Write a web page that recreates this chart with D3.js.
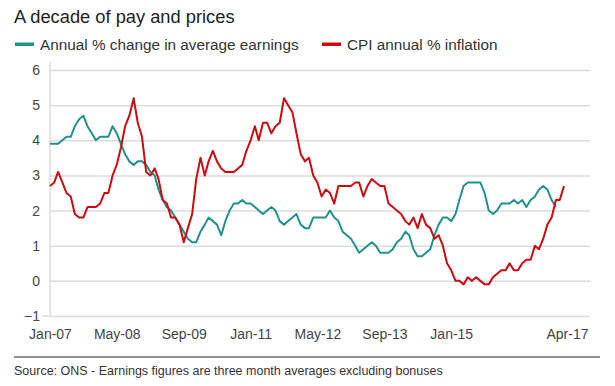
<!DOCTYPE html>
<html>
<head>
<meta charset="utf-8">
<script src="https://cdn.jsdelivr.net/npm/d3@7"></script>
<style>
  html, body { margin: 0; padding: 0; background: #fff; }
  svg { display: block; font-family: "Liberation Sans", Arial, Helvetica, sans-serif; }
</style>
</head>
<body>
<svg id="chart" width="615" height="386"></svg>
<script>
// ---- Data ----
const startMonth = "Jan-07";
const tickLabels = ["Jan-07", "May-08", "Sep-09", "Jan-11", "May-12", "Sep-13", "Jan-15", "Apr-17"];
const yTicks = [-1, 0, 1, 2, 3, 4, 5, 6];

// Annual % change in average earnings (3-month average, excl. bonuses), Jan-07 .. Feb-17
const earnings = [
  3.9, 3.9, 3.9, 4.0, 4.1, 4.1, 4.4, 4.6, 4.7, 4.4, 4.2, 4.0,
  4.1, 4.1, 4.1, 4.4, 4.2, 3.9, 3.6, 3.4, 3.3, 3.4, 3.4, 3.3,
  3.1, 3.0, 2.6, 2.3, 2.1, 2.0, 1.8, 1.6, 1.4, 1.2, 1.1, 1.1,
  1.4, 1.6, 1.8, 1.7, 1.6, 1.3, 1.7, 2.0, 2.2, 2.2, 2.3, 2.2,
  2.2, 2.1, 2.0, 1.9, 2.0, 2.1, 2.0, 1.7, 1.6, 1.7, 1.8, 1.9,
  1.6, 1.5, 1.5, 1.8, 1.8, 1.8, 1.8, 2.0, 1.8, 1.7, 1.4, 1.3,
  1.2, 1.0, 0.8, 0.9, 1.0, 1.1, 1.0, 0.8, 0.8, 0.8, 0.9, 1.1,
  1.2, 1.4, 1.3, 0.9, 0.7, 0.7, 0.8, 0.9, 1.3, 1.6, 1.8, 1.8,
  1.7, 1.9, 2.3, 2.7, 2.8, 2.8, 2.8, 2.8, 2.5, 2.0, 1.9, 2.0,
  2.2, 2.2, 2.2, 2.3, 2.2, 2.3, 2.1, 2.3, 2.4, 2.6, 2.7, 2.6,
  2.3, 2.1
];

// CPI annual % inflation, Jan-07 .. Apr-17
const cpi = [
  2.7, 2.8, 3.1, 2.8, 2.5, 2.4, 1.9, 1.8, 1.8, 2.1, 2.1, 2.1,
  2.2, 2.5, 2.5, 3.0, 3.3, 3.8, 4.4, 4.7, 5.2, 4.5, 4.1, 3.1,
  3.0, 3.2, 2.9, 2.3, 2.2, 1.8, 1.8, 1.6, 1.1, 1.5, 1.9, 2.9,
  3.5, 3.0, 3.4, 3.7, 3.4, 3.2, 3.1, 3.1, 3.1, 3.2, 3.3, 3.7,
  4.0, 4.4, 4.0, 4.5, 4.5, 4.2, 4.4, 4.5, 5.2, 5.0, 4.8, 4.2,
  3.6, 3.4, 3.5, 3.0, 2.8, 2.4, 2.6, 2.5, 2.2, 2.7, 2.7, 2.7,
  2.7, 2.8, 2.8, 2.4, 2.7, 2.9, 2.8, 2.7, 2.7, 2.2, 2.1, 2.0,
  1.9, 1.7, 1.6, 1.8, 1.5, 1.9, 1.6, 1.5, 1.2, 1.3, 1.0, 0.5,
  0.3, 0.0, 0.0, -0.1, 0.1, 0.0, 0.1, 0.0, -0.1, -0.1, 0.1, 0.2,
  0.3, 0.3, 0.5, 0.3, 0.3, 0.5, 0.6, 0.6, 1.0, 0.9, 1.2, 1.6,
  1.8, 2.3, 2.3, 2.7
];

const seriesNames = ["Annual % change in average earnings", "CPI annual % inflation"];
const seriesColors = ["#22918c", "#cc0a12"];

// ---- Layout ----
const svg = d3.select("#chart");
const parse = d3.timeParse("%b-%y");
const fmt = d3.timeFormat("%b-%y");
const t0 = parse(startMonth);
const dateOf = i => d3.timeMonth.offset(t0, i);

const plotLeft = 50, plotRight = 590, plotTop = 70, plotBottom = 316;
const x = d3.scaleTime()
  .domain([t0, dateOf(cpi.length - 1)])
  .range([plotLeft, 564]);
const y = d3.scaleLinear().domain([-1, 6]).range([plotBottom, plotTop]);

// Title
svg.append("text")
  .attr("x", 14).attr("y", 23)
  .attr("font-size", 18.3).attr("fill", "#222")
  .text("A decade of pay and prices");

// Legend
const leg = svg.append("g");
const legX = [15, 322];
seriesNames.forEach((n, k) => {
  leg.append("rect").attr("x", legX[k]).attr("y", 42.5).attr("width", 19).attr("height", 3.5)
    .attr("fill", seriesColors[k]);
  leg.append("text").attr("x", legX[k] + 25).attr("y", 49.5)
    .attr("font-size", 15.3).attr("fill", "#333").text(n);
});

// Y axis with gridlines
const yAxis = svg.append("g")
  .attr("transform", `translate(${plotLeft},0)`)
  .call(d3.axisLeft(y).tickValues(yTicks).tickSize(-(plotRight - plotLeft)).tickPadding(10).tickFormat(d3.format("d")));
yAxis.select(".domain").remove();
yAxis.selectAll(".tick line").attr("stroke", "#dcdcdc").attr("stroke-width", 1.5);
yAxis.selectAll(".tick text").attr("font-size", 14).attr("fill", "#444")
  .attr("font-family", "Liberation Sans, Arial, sans-serif");

// extend bottom gridline slightly left
svg.append("line")
  .attr("x1", plotLeft - 8).attr("x2", plotLeft)
  .attr("y1", y(-1)).attr("y2", y(-1))
  .attr("stroke", "#dcdcdc").attr("stroke-width", 1.5);

// vertical axis line
svg.append("line")
  .attr("x1", plotLeft).attr("x2", plotLeft)
  .attr("y1", plotTop - 8).attr("y2", plotBottom + 1)
  .attr("stroke", "#dcdcdc").attr("stroke-width", 1.5);

// X axis
const xAxis = svg.append("g")
  .attr("transform", `translate(0,${plotBottom})`)
  .call(d3.axisBottom(x).tickValues(tickLabels.map(parse)).tickFormat(fmt).tickSize(0).tickPadding(13));
xAxis.select(".domain").remove();
xAxis.selectAll(".tick text").attr("font-size", 14).attr("fill", "#444")
  .attr("font-family", "Liberation Sans, Arial, sans-serif");
xAxis.selectAll(".tick").filter((d, i, n) => i === n.length - 1)
  .select("text").attr("text-anchor", "end").attr("dx", plotRight - 2 - x(dateOf(cpi.length - 1)));

// Lines
const line = d3.line().x((d, i) => x(dateOf(i))).y(d => y(d));
[earnings, cpi].forEach((s, k) => {
  svg.append("path").datum(s)
    .attr("fill", "none")
    .attr("stroke", seriesColors[k])
    .attr("stroke-width", 2)
    .attr("stroke-linejoin", "round")
    .attr("d", line);
});

// Footer rule and source
svg.append("line")
  .attr("x1", 14).attr("x2", 600).attr("y1", 357).attr("y2", 357)
  .attr("stroke", "#222").attr("stroke-width", 1);
svg.append("text")
  .attr("x", 14).attr("y", 375)
  .attr("font-size", 12.5).attr("fill", "#333")
  .text("Source: ONS - Earnings figures are three month averages excluding bonuses");
</script>
</body>
</html>
